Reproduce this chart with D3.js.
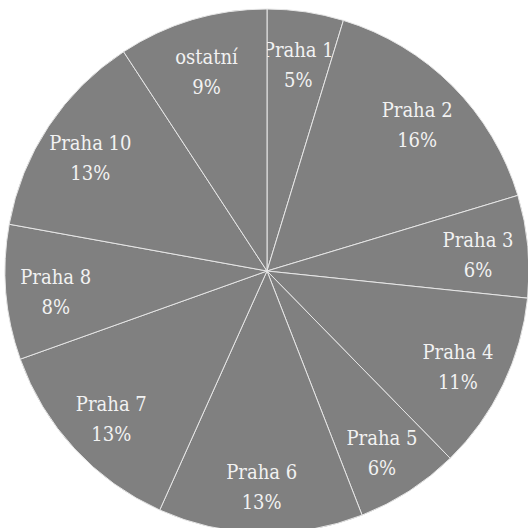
<!DOCTYPE html>
<html>
<head>
<meta charset="utf-8">
<script src="https://cdn.jsdelivr.net/npm/d3@7"></script>
<style>
  body { margin: 0; background: #fff; }
  svg text { font-family: 'DejaVu Serif Condensed', 'DejaVu Serif', serif; font-stretch: condensed; }
</style>
</head>
<body>
<svg id="chart" width="528" height="528"></svg>
<script>
var width = 528, height = 528

// slices, clockwise from 12 o'clock
var categories = ['Praha 1', 'Praha 2', 'Praha 3', 'Praha 4', 'Praha 5', 'Praha 6', 'Praha 7', 'Praha 8', 'Praha 10', 'ostatní']
var values = [4.7, 15.6, 6.3, 11.0, 6.4, 12.6, 12.8, 8.3, 12.9, 9.2]

var cx = 267, cy = 271, radius = 262

var total = d3.sum(values)
var data = categories.map(function(c, i) { return {label: c, value: values[i]} })

var pie = d3.pie()
  .sort(null)
  .value(function(d) { return d.value })

var arc = d3.arc().innerRadius(0).outerRadius(radius)
var labelArc = d3.arc().innerRadius(212).outerRadius(212)

var svg = d3.select('#chart')
var g = svg.append('g').attr('transform', 'translate(' + cx + ',' + cy + ')')

var slices = g.selectAll('g.slice')
  .data(pie(data))
  .enter()
  .append('g').attr('class', 'slice')

slices.append('path')
  .attr('d', arc)
  .attr('fill', '#808080')
  .attr('stroke', '#e6e6e6')
  .attr('stroke-width', 1)

slices.each(function(d) {
  var p = labelArc.centroid(d)
  var t = d3.select(this).append('text')
    .attr('transform', 'translate(' + p[0] + ',' + p[1] + ')')
    .attr('text-anchor', 'middle')
    .style('font-size', '20px')
    .style('fill', '#f2f2f2')
  t.append('tspan').attr('x', 0).attr('y', -4).text(d.data.label)
  t.append('tspan').attr('x', 0).attr('y', 26).text(Math.round(d.data.value / total * 100) + '%')
})
</script>
</body>
</html>
